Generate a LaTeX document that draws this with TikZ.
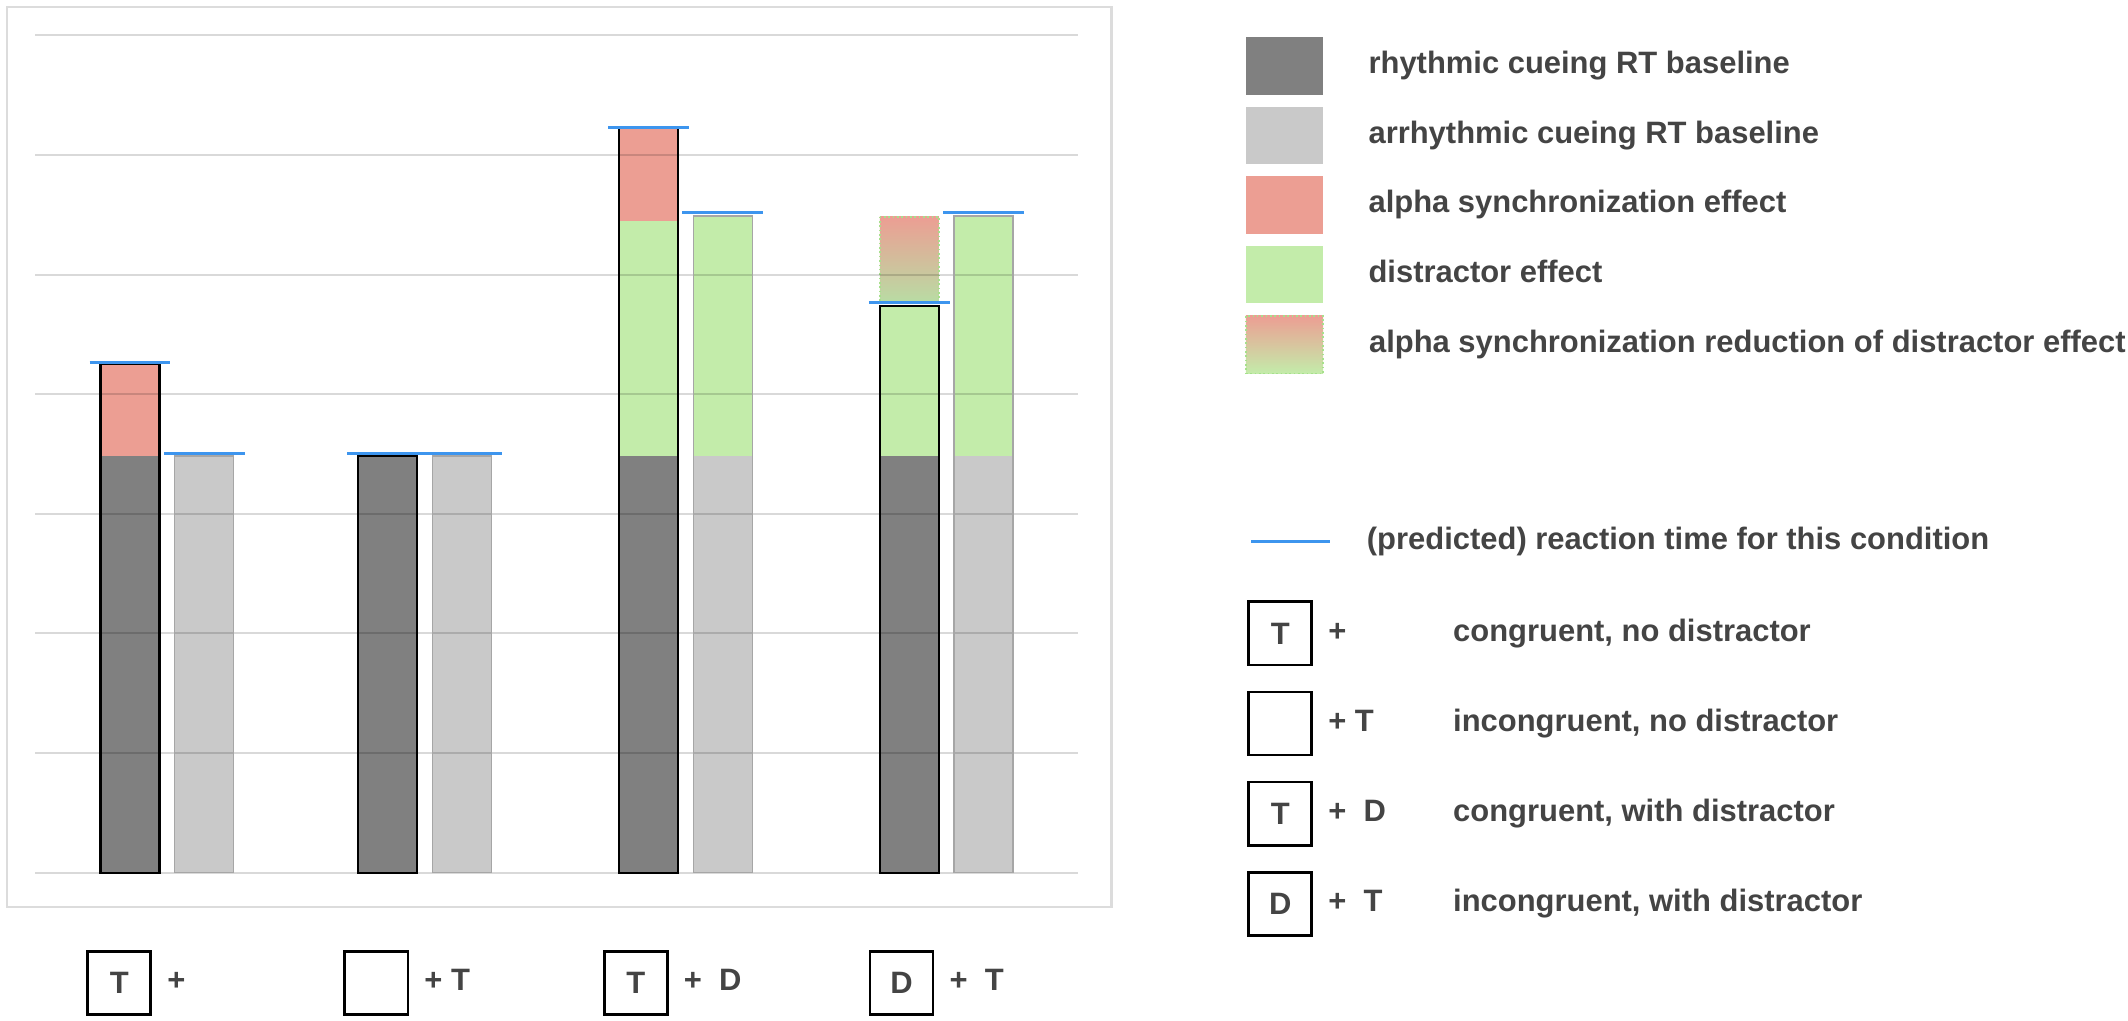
\documentclass[tikz,border=0pt]{standalone}
\usepackage{fontspec}
\setmainfont{Liberation Sans}
\usetikzlibrary{positioning}
\definecolor{darkbar}{HTML}{808080}
\definecolor{lightbar}{HTML}{C9C9C9}
\definecolor{alphared}{HTML}{EC9E93}
\definecolor{distgreen}{HTML}{C3ECAA}
\definecolor{dotgreen}{HTML}{A6E08C}
\definecolor{rtblue}{HTML}{3D95EE}
\definecolor{txtgray}{HTML}{444444}
\definecolor{framegray}{HTML}{DCDCDC}
\tikzset{
    %Define style for legend swatches
    swatch/.style={
           rectangle,
           minimum width=57pt,
           minimum height=42.5pt,
           inner sep=0pt},
    %Define style for condition boxes
    cond/.style={
           rectangle,
           draw=black, line width=2pt,
           minimum size=46.5pt,
           inner sep=0pt,
           text=txtgray,
           font=\bfseries\fontsize{22.8}{26}\selectfont},
    % Define style for texts
    lbl/.style={
           inner sep=0pt,
           text height=16pt,
           text depth=4.5pt,
           text=txtgray,
           font=\bfseries\fontsize{22.8}{26}\selectfont},
    % Define line styles
    rt/.style={draw=rtblue, line width=2.2pt},
    gridline/.style={draw=black, opacity=0.15, line width=1.5pt},
    rhythm/.style={draw=black, line width=1.6pt},
    arrhythm/.style={draw=black!35, line width=1pt}
}

\begin{document}
\begin{tikzpicture}[x=1pt,y=-1pt,node distance=8.3pt]
    \useasboundingbox (0,0) rectangle (1568,752.3);
    \draw [framegray, line width=1.5pt] (5,5) rectangle (819,668);
    % baselines
    \foreach \x in {74,264,456,648.3}
        \fill [darkbar] (\x,336) rectangle ++(43.5,307);
    \foreach \x in {128.7,318.7,510.8,703}
        \fill [lightbar] (\x,336) rectangle ++(43.5,307);
    % effects
    \fill [alphared] (74,268) rectangle (117.5,336);
    \fill [distgreen] (456,163) rectangle (499.5,336);
    \fill [alphared] (456,94.5) rectangle (499.5,163);
    \fill [distgreen] (510.8,159.2) rectangle (554.3,336);
    \fill [distgreen] (648.3,225.3) rectangle (691.8,336);
    \fill [distgreen] (703,159.2) rectangle (746.5,336);
    \shade [top color=alphared, bottom color=distgreen!85!gray]
          (648.3,159.7) rectangle (691.8,222.3);
    \draw [dotgreen, dotted, line width=1.2pt]
          (648.3,159.7) rectangle (691.8,222.3);
    % grid
    \foreach \k in {0,...,7}
        \draw [gridline] (26,{643-88.14*\k}) -- (794,{643-88.14*\k});
    % outlines
    \draw [rhythm] (74,268) rectangle (117.5,643);
    \draw [rhythm] (264,336) rectangle (307.5,643);
    \draw [rhythm] (456,94.5) rectangle (499.5,643);
    \draw [rhythm] (648.3,225.3) rectangle (691.8,643);
    \draw [arrhythm] (128.7,336) rectangle (172.2,643);
    \draw [arrhythm] (318.7,336) rectangle (362.2,643);
    \draw [arrhythm] (510.8,159.2) rectangle (554.3,643);
    \draw [arrhythm] (703,159.2) rectangle (746.5,643);
    % reaction times
    \draw [rt] (66,267) -- (125.5,267);
    \draw [rt] (120.7,334) -- (180.2,334);
    \draw [rt] (256,334) -- (315.5,334);
    \draw [rt] (310.7,334) -- (370.2,334);
    \draw [rt] (448,94) -- (507.5,94);
    \draw [rt] (502.8,156.5) -- (562.3,156.5);
    \draw [rt] (640.3,223) -- (699.8,223);
    \draw [rt] (695,156.5) -- (754.5,156.5);
    % legend
    \node (sw1) [swatch] [fill=darkbar] at (946.5,48.75) {};
    \node (sw2) [swatch] [fill=lightbar] [below=of sw1] {};
    \node (sw3) [swatch] [fill=alphared] [below=of sw2] {};
    \node (sw4) [swatch] [fill=distgreen] [below=of sw3] {};
    \node (sw5) [swatch] [top color=alphared, bottom color=distgreen,
          draw=dotgreen, dotted, line width=1.2pt] [below=of sw4] {};
    \node (t1) [lbl] [right=33pt of sw1]
          {rhythmic cueing RT baseline};
    \node (t2) [lbl] [right=33pt of sw2]
          {arrhythmic cueing RT baseline};
    \node (t3) [lbl] [right=33pt of sw3]
          {alpha synchronization effect};
    \node (t4) [lbl] [right=33pt of sw4]
          {distractor effect};
    \node (t5) [lbl] [right=33pt of sw5]
          {alpha synchronization reduction of distractor effect};
    \coordinate (rta) at (922,399);
    \coordinate (rtb) at (980,399);
    \draw [rt] (rta) -- (rtb);
    \node (trt) [lbl] [right=27pt of rtb]
          {(predicted) reaction time for this condition};
    % conditions
    \node (c1) [cond] at (943.3,466.7) {T};
    \node (c2) [cond] [below=17.9pt of c1] {};
    \node (c3) [cond] [below=17.9pt of c2] {T};
    \node (c4) [cond] [below=17.9pt of c3] {D};
    \node (p1) [lbl] [right=11pt of c1] {+};
    \node (p2) [lbl] [right=11pt of c2] {+ T};
    \node (p3) [lbl] [right=11pt of c3] {+~~D};
    \node (p4) [lbl] [right=11pt of c4] {+~~T};
    \node (d1) [lbl] [right=103pt of c1] {congruent, no distractor};
    \node (d2) [lbl] [right=103pt of c2] {incongruent, no distractor};
    \node (d3) [lbl] [right=103pt of c3] {congruent, with distractor};
    \node (d4) [lbl] [right=103pt of c4] {incongruent, with distractor};
    \node (b1) [cond] at (87.9,724.3) {T};
    \node (b2) [cond] at (277.3,724.3) {};
    \node (b3) [cond] at (468.5,724.3) {T};
    \node (b4) [cond] at (664.3,724.3) {D};
    \node (q1) [lbl] [right=11pt of b1] {+};
    \node (q2) [lbl] [right=11pt of b2] {+ T};
    \node (q3) [lbl] [right=11pt of b3] {+~~D};
    \node (q4) [lbl] [right=11pt of b4] {+~~T};
\end{tikzpicture}
\end{document}
